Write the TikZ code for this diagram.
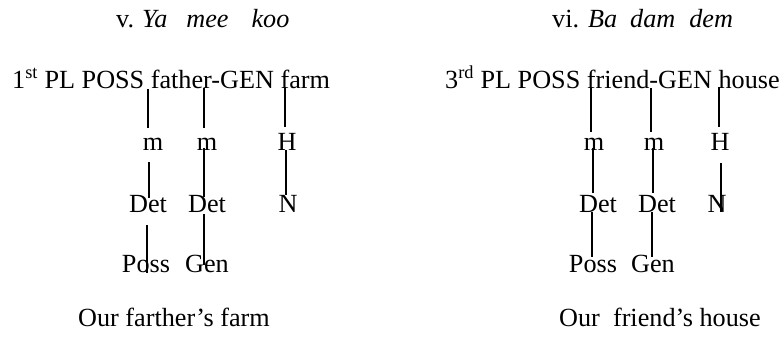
\documentclass[tikz,border=0pt]{standalone}
\usepackage{fontspec}
\setmainfont{Liberation Serif}
\usetikzlibrary{calc}
\begin{document}
\begin{tikzpicture}[x=1pt,y=-1pt,
  lbl/.style={inner sep=0pt,anchor=base,font=\fontsize{26.2}{30}\selectfont},
  txt/.style={inner sep=0pt,anchor=base west,font=\fontsize{26.2}{30}\selectfont},
  link/.style={line width=1.3pt,black}]
\useasboundingbox (0,0) rectangle (784,338);
% titles
\node[txt] (tL) at (116,27) {v.\hspace{8pt}\textit{Ya}\hspace{19pt}\textit{mee}\hspace{23pt}\textit{koo}};
\node[txt] (tR) at (552,27) {vi.\hspace{9pt}\textit{Ba}\hspace{13pt}\textit{dam}\hspace{14pt}\textit{dem}};
% glosses
\node[txt] (hL) at (12,88) {1\textsuperscript{st} PL POSS father-GEN farm};
\node[txt] (hR) at (445,88) {3\textsuperscript{rd} PL POSS friend-GEN house};
% left tree
\node[lbl] (mA) at (153,150) {m};
\node[lbl] (mB) at (207,150) {m};
\node[lbl] (HL) at (287,150) {H};
\node[lbl] (dA) at (148,212) {Det};
\node[lbl] (dB) at (207,212) {Det};
\node[lbl] (NL) at (288,212) {N};
\node[lbl] (pL) at (146,272) {Poss};
\node[lbl] (gL) at (207,272) {Gen};
% right tree
\node[lbl] (mC) at (594,150) {m};
\node[lbl] (mD) at (654,150) {m};
\node[lbl] (HR) at (720,150) {H};
\node[lbl] (dC) at (598,212) {Det};
\node[lbl] (dD) at (657,212) {Det};
\node[lbl] (NR) at (717,212) {N};
\node[lbl] (pR) at (593,272) {Poss};
\node[lbl] (gR) at (653,272) {Gen};
% translations
\node[txt] (bL) at (78,326) {Our farther’s farm};
\node[txt] (bR) at (559,326) {Our\ \ friend’s house};
% left connectors
\draw[link] ($(mA.base)+(-5,-61)$) -- ($(mA.base)+(-5,-22)$);
\draw[link] ($(mB.base)+(-3,-62)$) -- ($(mB.base)+(-3,-22)$);
\draw[link] ($(HL.base)+(-2,-62)$) -- ($(HL.base)+(-2,-23)$);
\draw[link] ($(dA.base)+(1,-50)$) -- ($(dA.base)+(1,-14)$);
\draw[link] ($(dB.base)+(-3,-64)$) -- ($(dB.base)+(-3,-15)$);
\draw[link] ($(NL.base)+(-2,-62)$) -- ($(NL.base)+(-2,-17)$);
\draw[link] ($(pL.base)+(1,-47)$) -- ($(pL.base)+(1,1)$);
\draw[link] ($(gL.base)+(-3,-58)$) -- ($(gL.base)+(-3,-7)$);
% right connectors
\draw[link] ($(mC.base)+(-3,-62)$) -- ($(mC.base)+(-3,-18)$);
\draw[link] ($(mD.base)+(-3,-62)$) -- ($(mD.base)+(-3,-18)$);
\draw[link] ($(HR.base)+(-1,-63)$) -- ($(HR.base)+(-1,-23)$);
\draw[link] ($(dC.base)+(-5,-64)$) -- ($(dC.base)+(-5,-19)$);
\draw[link] ($(dD.base)+(-4,-64)$) -- ($(dD.base)+(-4,-19)$);
\draw[link] ($(NR.base)+(4,-49)$) -- ($(NR.base)+(4,0)$);
\draw[link] ($(pR.base)+(-1,-60)$) -- ($(pR.base)+(-1,-15)$);
\draw[link] ($(gR.base)+(-1,-60)$) -- ($(gR.base)+(-1,-15)$);
\end{tikzpicture}
\end{document}
